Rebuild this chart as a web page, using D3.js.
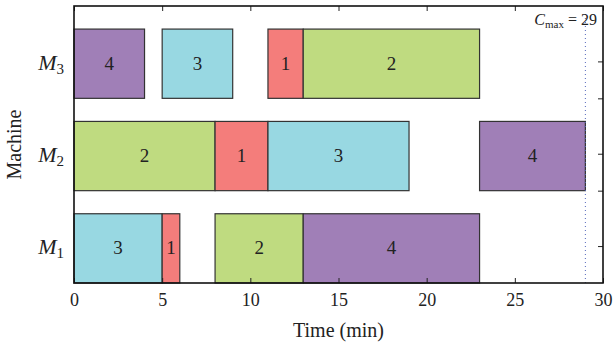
<!DOCTYPE html>
<html><head><meta charset="utf-8">
<script src="https://cdn.jsdelivr.net/npm/d3@7/dist/d3.min.js"></script>
<style>body{margin:0;background:#fff}svg{display:block}</style>
</head><body>
<script>
const machines = ["M1","M2","M3"];
const jobIds = [1,2,3,4];
const jobColors = ["#F47D7B","#BFDB80","#98D8E2","#A07FB7"];
// tasks: machine index, job, start, end
const taskMachine = [0,0,0,0, 1,1,1,1, 2,2,2,2];
const taskJob     = [3,1,2,4, 2,1,3,4, 4,3,1,2];
const taskStart   = [0,5,8,13, 0,8,11,23, 0,5,11,13];
const taskEnd     = [5,6,13,23, 8,11,19,29, 4,9,13,23];
const cmax = 29;
const xTicks = [0,5,10,15,20,25,30];

const FONT="'Liberation Serif','Times New Roman','DejaVu Serif',serif";
const W=613,H=347;
const mg={l:74,r:10,t:6,b:64};
const svg=d3.select("body").append("svg").attr("width",W).attr("height",H);
const x=d3.scaleLinear().domain([0,30]).range([mg.l,W-mg.r]);
const y=d3.scaleLinear().domain([0,12]).range([H-mg.b,mg.t]);
const color=d3.scaleOrdinal().domain(jobIds).range(jobColors);

const tasks=taskMachine.map((mi,i)=>({mi,job:taskJob[i],s:taskStart[i],e:taskEnd[i]}));
const g=svg.append("g");
g.selectAll("rect.t").data(tasks).join("rect").attr("class","t")
 .attr("x",d=>x(d.s)).attr("width",d=>x(d.e)-x(d.s))
 .attr("y",d=>y(d.mi*4+3)).attr("height",d=>y(d.mi*4)-y(d.mi*4+3))
 .attr("fill",d=>color(d.job)).attr("stroke","#333").attr("stroke-width",1.2);
g.selectAll("text.t").data(tasks).join("text").attr("class","t")
 .attr("x",d=>x((d.s+d.e)/2)).attr("y",d=>y(d.mi*4+1.5)+6)
 .attr("text-anchor","middle").style("font-size","19px").text(d=>d.job);

// Cmax dotted line
svg.append("line").attr("x1",x(cmax)).attr("x2",x(cmax)).attr("y1",y(12)+8).attr("y2",y(0))
 .attr("stroke","#5566bb").attr("stroke-width",1).attr("stroke-dasharray","1,3");

// axes
const axB=d3.axisBottom(x).tickValues(xTicks).tickSize(-5).tickPadding(10);
const ax=svg.append("g").attr("transform",`translate(0,${y(0)})`).call(axB);
ax.select(".domain").remove();
ax.selectAll("text").style("font-size","18px");
ax.selectAll("line").attr("stroke","#222");
const axT=d3.axisTop(x).tickValues(xTicks).tickSize(-5).tickFormat("");
const at=svg.append("g").attr("transform",`translate(0,${y(12)})`).call(axT);
at.select(".domain").remove(); at.selectAll("line").attr("stroke","#222");
const rightTicks=[1.6,4,5.6,8,9.6];
const axR=d3.axisRight(y).tickValues(rightTicks).tickSize(-5).tickFormat("");
const ar=svg.append("g").attr("transform",`translate(${x(30)},0)`).call(axR);
ar.select(".domain").remove(); ar.selectAll("line").attr("stroke","#222");

// frame
svg.append("rect").attr("x",x(0)).attr("y",y(12)).attr("width",x(30)-x(0)).attr("height",y(0)-y(12))
 .attr("fill","none").attr("stroke","#111").attr("stroke-width",1.6);

// machine labels
machines.forEach((mm,i)=>{
  const t=svg.append("text").attr("x",x(0)-10).attr("y",y(i*4+1.5)+6).attr("text-anchor","end").style("font-size","22px");
  t.append("tspan").style("font-style","italic").text("M");
  t.append("tspan").style("font-size","15px").attr("dy",4).text(mm.slice(1));
});
svg.append("text").attr("transform",`translate(21,${(y(0)+y(12))/2}) rotate(-90)`).attr("text-anchor","middle").style("font-size","20px").text("Machine");
svg.append("text").attr("x",(x(0)+x(30))/2).attr("y",337).attr("text-anchor","middle").style("font-size","20px").text("Time (min)");

const c=svg.append("text").attr("x",597).attr("y",25).attr("text-anchor","end").style("font-size","16px");
c.append("tspan").style("font-style","italic").text("C");
c.append("tspan").style("font-size","11px").attr("dy",3).text("max");
c.append("tspan").attr("dy",-3).text(" = 29");

svg.selectAll("text").style("font-family",FONT).attr("fill","#222");
</script>
</body></html>
